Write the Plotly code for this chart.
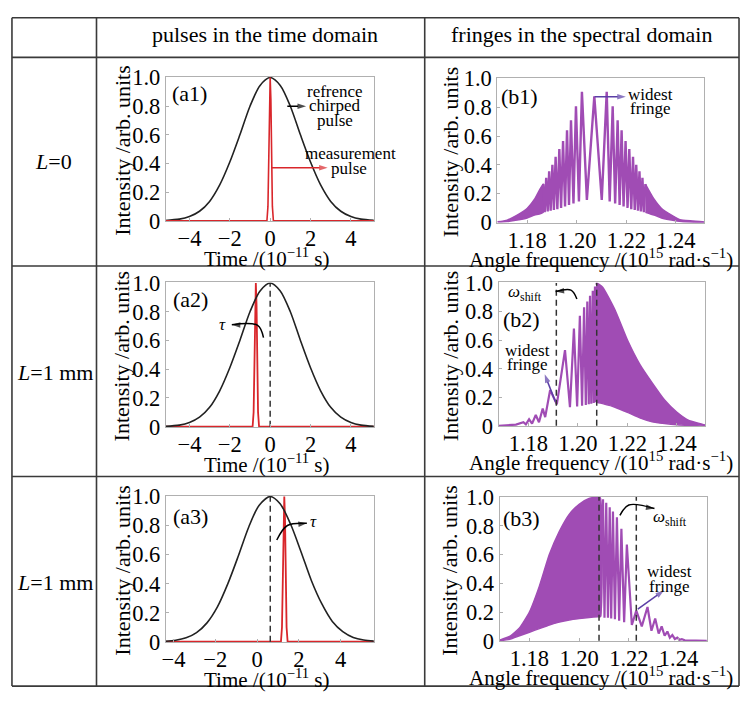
import plotly.graph_objects as go

W, H = 742, 701
SERIF = "Liberation Serif"
PURPLE = "#a04cb4"
ARROWP = "#5b3fa6"
RED = "#d9262b"

# ---------------- data: time domain ----------------
t_a12 = [-5.2, -4.5, -4.0, -3.5, -3.0, -2.5, -2.0, -1.5, -1.0, -0.5, 0.0,
         0.5, 1.0, 1.5, 2.0, 2.5, 3.0, 3.5, 4.0, 4.5, 5.2]
ref_a12 = [0.002, 0.011, 0.029, 0.066, 0.135, 0.25, 0.41, 0.6, 0.8, 0.945, 1.0,
           0.945, 0.8, 0.6, 0.41, 0.25, 0.135, 0.066, 0.029, 0.011, 0.002]
t_a3 = [-4.4, -3.9, -3.4, -2.9, -2.4, -1.9, -1.4, -0.9, -0.4, 0.1, 0.63,
        1.1, 1.6, 2.1, 2.6, 3.1, 3.6, 4.1, 4.6, 5.1, 5.6]
ref_a3 = [0.004, 0.01, 0.027, 0.063, 0.13, 0.24, 0.4, 0.59, 0.79, 0.94, 1.0,
          0.95, 0.81, 0.62, 0.42, 0.26, 0.14, 0.07, 0.03, 0.012, 0.004]

meas_t_a1 = [-5.2, -0.16, -0.11, -0.07, -0.035, 0.0, 0.035, 0.07, 0.11, 0.16, 5.2]
meas_t_a2 = [-5.2, -0.87, -0.82, -0.78, -0.745, -0.71, -0.675, -0.64, -0.60, -0.55, 5.2]
meas_t_a3 = [-4.4, 1.14, 1.19, 1.23, 1.265, 1.30, 1.335, 1.37, 1.41, 1.46, 5.6]
meas_v = [0.0, 0.0, 0.1, 0.45, 0.85, 1.0, 0.85, 0.45, 0.1, 0.0, 0.0]

dash_a2 = 0.0
dash_a3 = 0.63

# ---------------- data: spectral domain ----------------
# b1 resolved fringes (vertices: peaks and minima)
b1_f = [1.1865, 1.1871, 1.1877, 1.1883, 1.1889, 1.1895, 1.1902, 1.1908, 1.1915, 1.1922,
        1.1930, 1.1937, 1.1945, 1.1953, 1.1961, 1.1969, 1.1977, 1.1987, 1.1997, 1.2009,
        1.2021, 1.2041, 1.2071, 1.2101, 1.2121, 1.2133, 1.2145, 1.2155, 1.2165, 1.2173,
        1.2181, 1.2189, 1.2197, 1.2205, 1.2212, 1.2220, 1.2227, 1.2234, 1.2240, 1.2247,
        1.2253, 1.2259, 1.2265, 1.2271, 1.2277]
b1_v = [0.266, 0.07, 0.31, 0.075, 0.355, 0.08, 0.40, 0.085, 0.455, 0.09,
        0.51, 0.10, 0.566, 0.11, 0.64, 0.12, 0.71, 0.13, 0.807, 0.145,
        0.907, 0.155, 0.877, 0.155, 0.907, 0.145, 0.807, 0.13, 0.71, 0.12,
        0.64, 0.11, 0.566, 0.10, 0.51, 0.09, 0.455, 0.085, 0.40, 0.08,
        0.355, 0.075, 0.31, 0.07, 0.266]
# b1 dense (unresolved) bands: upper and lower envelopes
b1_left_f = [1.168, 1.172, 1.176, 1.180, 1.183, 1.1865]
b1_left_up = [0.003, 0.015, 0.05, 0.096, 0.16, 0.266]
b1_left_lo = [0.001, 0.005, 0.015, 0.03, 0.05, 0.07]
b1_right_f = [1.2277, 1.2312, 1.2342, 1.2382, 1.2422, 1.2514]
b1_right_up = [0.266, 0.16, 0.096, 0.05, 0.015, 0.002]
b1_right_lo = [0.07, 0.05, 0.03, 0.015, 0.005, 0.0]

# b2 resolved fringes
b2_f = [1.168, 1.172, 1.175, 1.1780, 1.1790, 1.1803, 1.1815, 1.1830, 1.1843, 1.1858,
        1.1868, 1.1888, 1.1915, 1.1948, 1.1968, 1.1984, 1.1997, 1.2008, 1.2017, 1.2025,
        1.2032, 1.2038, 1.2044, 1.2049, 1.2054, 1.2060, 1.2064, 1.2069, 1.2073]
b2_v = [0.0, 0.003, 0.008, 0.025, 0.010, 0.045, 0.015, 0.075, 0.025, 0.12,
        0.06, 0.25, 0.15, 0.53, 0.13, 0.68, 0.135, 0.77, 0.14, 0.83,
        0.145, 0.87, 0.15, 0.91, 0.155, 0.945, 0.16, 0.975, 0.165]
b2_dense_f = [1.2073, 1.2076, 1.210, 1.215, 1.220, 1.225, 1.230, 1.235, 1.240, 1.245, 1.2514]
b2_dense_up = [0.99, 1.0, 0.97, 0.81, 0.60, 0.43, 0.30, 0.18, 0.094, 0.035, 0.005]
b2_dense_lo = [0.165, 0.165, 0.155, 0.13, 0.094, 0.055, 0.027, 0.015, 0.007, 0.003, 0.0]
b2_shift = [1.1913, 1.2076]

# b3
b3_dense_f = [1.168, 1.172, 1.176, 1.180, 1.184, 1.188, 1.192, 1.196, 1.200, 1.204, 1.2075, 1.2085]
b3_dense_up = [0.005, 0.03, 0.09, 0.20, 0.38, 0.60, 0.76, 0.88, 0.95, 0.99, 1.0, 0.995]
b3_dense_lo = [0.0, 0.01, 0.035, 0.06, 0.085, 0.11, 0.13, 0.145, 0.155, 0.163, 0.167, 0.167]
b3_f = [1.2085, 1.2096, 1.2102, 1.2109, 1.2116, 1.2123, 1.2129, 1.2136, 1.2144, 1.2152,
        1.2161, 1.2170, 1.2181, 1.2192, 1.2212, 1.2230, 1.2252, 1.2275, 1.2291, 1.2306,
        1.2320, 1.2332, 1.2344, 1.2355, 1.2365, 1.2375, 1.2385, 1.2395, 1.2404, 1.2413,
        1.2425, 1.2514]
b3_v = [0.167, 0.985, 0.16, 0.96, 0.16, 0.93, 0.155, 0.90, 0.15, 0.86,
        0.14, 0.78, 0.13, 0.67, 0.11, 0.21, 0.10, 0.235, 0.07, 0.155,
        0.05, 0.10, 0.035, 0.065, 0.022, 0.04, 0.013, 0.022, 0.007, 0.012,
        0.003, 0.0]
b3_shift = [1.2080, 1.2230]

# ticks
a_y_ticks = [0, 0.2, 0.4, 0.6, 0.8, 1.0]
a_y_text = ["0", "0.2", "0.4", "0.6", "0.8", "1.0"]
a_x_ticks = [-4, -2, 0, 2, 4]
a_x_text = ["\u22124", "\u22122", "0", "2", "4"]
b_x_ticks = [1.18, 1.20, 1.22, 1.24]
b_x_text = ["1.18", "1.20", "1.22", "1.24"]

# ---------------- layout geometry (pixels) ----------------
panels = {
    "a1": dict(n=1, xp=(162.7, 371.7), yp=(67.3, 216.7), xr=[-5.17, 5.13]),
    "b1": dict(n=2, xp=(496.0, 704.0), yp=(68.3, 218.3), xr=[1.168, 1.2514]),
    "a2": dict(n=3, xp=(162.7, 371.7), yp=(280.0, 430.0), xr=[-5.17, 5.13]),
    "b2": dict(n=4, xp=(497.3, 705.0), yp=(280.0, 429.0), xr=[1.168, 1.2514]),
    "a3": dict(n=5, xp=(162.7, 371.7), yp=(501.0, 652.7), xr=[-4.37, 5.58]),
    "b3": dict(n=6, xp=(498.3, 706.7), yp=(501.7, 651.7), xr=[1.168, 1.2514]),
}

fig = go.Figure()


def axn(p):
    n = panels[p]["n"]
    return ("x" if n == 1 else f"x{n}"), ("y" if n == 1 else f"y{n}")


def line(p, x, y, color, width, dash=None, shape="linear", smoothing=None):
    xa, ya = axn(p)
    ln = dict(color=color, width=width, shape=shape)
    if dash:
        ln["dash"] = dash
    if smoothing is not None:
        ln["smoothing"] = smoothing
    fig.add_trace(go.Scatter(x=x, y=y, mode="lines", line=ln, xaxis=xa, yaxis=ya,
                             hoverinfo="skip", showlegend=False))


def band(p, f, up, lo, color):
    xa, ya = axn(p)
    fig.add_trace(go.Scatter(x=list(f) + list(f)[::-1], y=list(up) + list(lo)[::-1],
                             mode="lines", fill="toself", fillcolor=color,
                             line=dict(color=color, width=1.5, shape="spline", smoothing=0.5),
                             xaxis=xa, yaxis=ya, hoverinfo="skip", showlegend=False))


def arrow(p, xs, ys, color, width=1.5, size=9):
    """Arrow drawn through the given points, arrowhead marker at the last point."""
    xa, ya = axn(p)
    sizes = [0] * (len(xs) - 1) + [size]
    fig.add_trace(go.Scatter(x=xs, y=ys, mode="lines+markers",
                             line=dict(color=color, width=width,
                                       shape="spline" if len(xs) > 2 else "linear"),
                             marker=dict(symbol="arrow", angleref="previous", size=sizes,
                                         color=color, line=dict(width=0)),
                             xaxis=xa, yaxis=ya, hoverinfo="skip", showlegend=False))


# time-domain panels
line("a1", t_a12, ref_a12, "#222222", 1.6, shape="spline", smoothing=0.8)
line("a1", meas_t_a1, meas_v, RED, 1.6)
line("a2", meas_t_a2, meas_v, RED, 1.8)
line("a2", [dash_a2, dash_a2], [0, 1], "#333333", 1.5, dash="6px,4px")
line("a2", t_a12, ref_a12, "#222222", 1.6, shape="spline", smoothing=0.8)
line("a3", meas_t_a3, meas_v, RED, 1.8)
line("a3", [dash_a3, dash_a3], [0, 1], "#333333", 1.5, dash="6px,4px")
line("a3", t_a3, ref_a3, "#222222", 1.6, shape="spline", smoothing=0.8)

# spectral panels
band("b1", b1_left_f, b1_left_up, b1_left_lo, PURPLE)
band("b1", b1_right_f, b1_right_up, b1_right_lo, PURPLE)
line("b1", b1_f, b1_v, PURPLE, 2.4)
band("b2", b2_dense_f, b2_dense_up, b2_dense_lo, PURPLE)
line("b2", b2_f, b2_v, PURPLE, 2.2)
band("b3", b3_dense_f, b3_dense_up, b3_dense_lo, PURPLE)
line("b3", b3_f, b3_v, PURPLE, 2.2)
for fx in b2_shift:
    line("b2", [fx, fx], [0, 1], "#333333", 1.5, dash="6px,4px")
for fx in b3_shift:
    line("b3", [fx, fx], [0, 1], "#333333", 1.5, dash="6px,4px")

# arrows
arrow("a1", [0.85, 1.78], [0.80, 0.80], "black")
arrow("a1", [0.05, 2.85], [0.37, 0.37], RED)
arrow("a2", [-0.33, -0.62, -1.90], [0.62, 0.705, 0.71], "black")
arrow("a3", [0.94, 1.45, 2.38], [0.70, 0.80, 0.815], "black")
arrow("b1", [1.2072, 1.2198], [0.873, 0.873], ARROWP)
arrow("b2", [1.1996, 1.1972, 1.1910], [0.888, 0.95, 0.94], "black")
arrow("b2", [1.1909, 1.1866], [0.17, 0.36], ARROWP)
arrow("b3", [1.2164, 1.2200, 1.2303], [0.873, 0.945, 0.92], "black")
arrow("b3", [1.2236, 1.2341], [0.22, 0.35], ARROWP)

# axes
layout_axes = {}
for p, d in panels.items():
    n = d["n"]
    xk = "xaxis" if n == 1 else f"xaxis{n}"
    yk = "yaxis" if n == 1 else f"yaxis{n}"
    xa, ya = axn(p)
    common = dict(showline=True, mirror=True, linecolor="#b0b0b0", linewidth=1,
                  ticks="inside", ticklen=3, tickcolor="#b0b0b0", showgrid=False,
                  zeroline=False, fixedrange=True,
                  tickfont=dict(family=SERIF, size=22.5, color="black"))
    is_a = p.startswith("a")
    layout_axes[xk] = dict(common, domain=[d["xp"][0] / W, d["xp"][1] / W], range=d["xr"],
                           anchor=ya, ticklabelstandoff=-3,
                           tickvals=a_x_ticks if is_a else b_x_ticks,
                           ticktext=a_x_text if is_a else b_x_text)
    layout_axes[yk] = dict(common, domain=[1 - d["yp"][1] / H, 1 - d["yp"][0] / H],
                           range=[-0.004, 1.004], anchor=xa,
                           tickvals=a_y_ticks, ticktext=a_y_text)

annotations = []
shapes = []


def txt(text, x, y, size=17, xref="paper", yref="paper", angle=0, color="black",
        xanchor="center", yanchor="middle"):
    if xref == "paper":
        x = x / W
    if yref == "paper":
        y = 1 - y / H
    annotations.append(dict(text=text, x=x, y=y, xref=xref, yref=yref, showarrow=False,
                            textangle=angle, xanchor=xanchor, yanchor=yanchor,
                            font=dict(family=SERIF, size=size, color=color)))


# axis titles
for p, d in panels.items():
    cx = (d["xp"][0] + d["xp"][1]) / 2
    cy = (d["yp"][0] + d["yp"][1]) / 2
    if p.startswith("a"):
        txt("Time /(10<sup>\u221211</sup> s)", cx - 3, d["yp"][1] + 37.5, size=21)
        txt("Intensity /arb. units", 118.3, cy + 2, size=22, angle=-90)
    else:
        txt("Angle frequency /(10<sup>15</sup> rad\u00b7s<sup>\u22121</sup>)", 600,
            d["yp"][1] + 36.5, size=21)
        txt("Intensity /arb. units", 448.3, cy + 2, size=22, angle=-90)

# table text
txt("pulses in the time domain", 262, 23, size=22)
txt("fringes in the spectral domain", 581, 23, size=22)
txt("<i>L</i>=0", 50, 155, size=22)
txt("<i>L</i>=1 mm", 51, 373, size=22)
txt("<i>L</i>=1 mm", 51, 591, size=22)

# panel labels
txt("(a1)", -4.0, 0.89, size=22, xref="x", yref="y")
txt("(a2)", -3.94, 0.883, size=22, xref="x3", yref="y3")
txt("(a3)", -3.2, 0.86, size=22, xref="x5", yref="y5")
txt("(b1)", 1.177, 0.877, size=22, xref="x2", yref="y2")
txt("(b2)", 1.1772, 0.743, size=22, xref="x4", yref="y4")
txt("(b3)", 1.177, 0.85, size=22, xref="x6", yref="y6")

# a1 annotations
txt("refrence", 3.2, 0.904, xref="x", yref="y")
txt("chirped", 3.2, 0.803, xref="x", yref="y")
txt("pulse", 3.2, 0.703, xref="x", yref="y")
txt("measurement", 3.97, 0.473, xref="x", yref="y")
txt("pulse", 3.89, 0.368, xref="x", yref="y")

# tau labels
txt("<i>\u03c4</i>", -2.35, 0.71, xref="x3", yref="y3")
txt("<i>\u03c4</i>", 2.72, 0.83, xref="x5", yref="y5")

# b labels
txt("widest", 1.2296, 0.89, xref="x2", yref="y2")
txt("fringe", 1.2296, 0.79, xref="x2", yref="y2")
txt("<i>\u03c9</i><sub>shift</sub>", 1.1785, 0.93, xref="x4", yref="y4")
txt("widest", 1.1796, 0.53, xref="x4", yref="y4")
txt("fringe", 1.1796, 0.43, xref="x4", yref="y4")
txt("<i>\u03c9</i><sub>shift</sub>", 1.2365, 0.856, xref="x6", yref="y6")
txt("widest", 1.2364, 0.48, xref="x6", yref="y6")
txt("fringe", 1.2364, 0.38, xref="x6", yref="y6")

# table grid
GRID = "#3a3a3a"
for yy in [6, 47, 263, 481, 698]:
    shapes.append(dict(type="line", xref="paper", yref="paper", x0=8 / W, x1=739 / W,
                       y0=1 - yy / H, y1=1 - yy / H, line=dict(color=GRID, width=1.6)))
for xx in [8, 93, 423, 739]:
    shapes.append(dict(type="line", xref="paper", yref="paper", x0=xx / W, x1=xx / W,
                       y0=1 - 6 / H, y1=1 - 698 / H, line=dict(color=GRID, width=1.6)))

fig.update_layout(width=W, height=H, margin=dict(l=0, r=0, t=0, b=0),
                  plot_bgcolor="white", paper_bgcolor="white", showlegend=False,
                  annotations=annotations, shapes=shapes, **layout_axes)

fig.write_html("out.html", config={"displayModeBar": False},
               post_script="document.body.style.margin='0';document.body.style.overflow='hidden';")
